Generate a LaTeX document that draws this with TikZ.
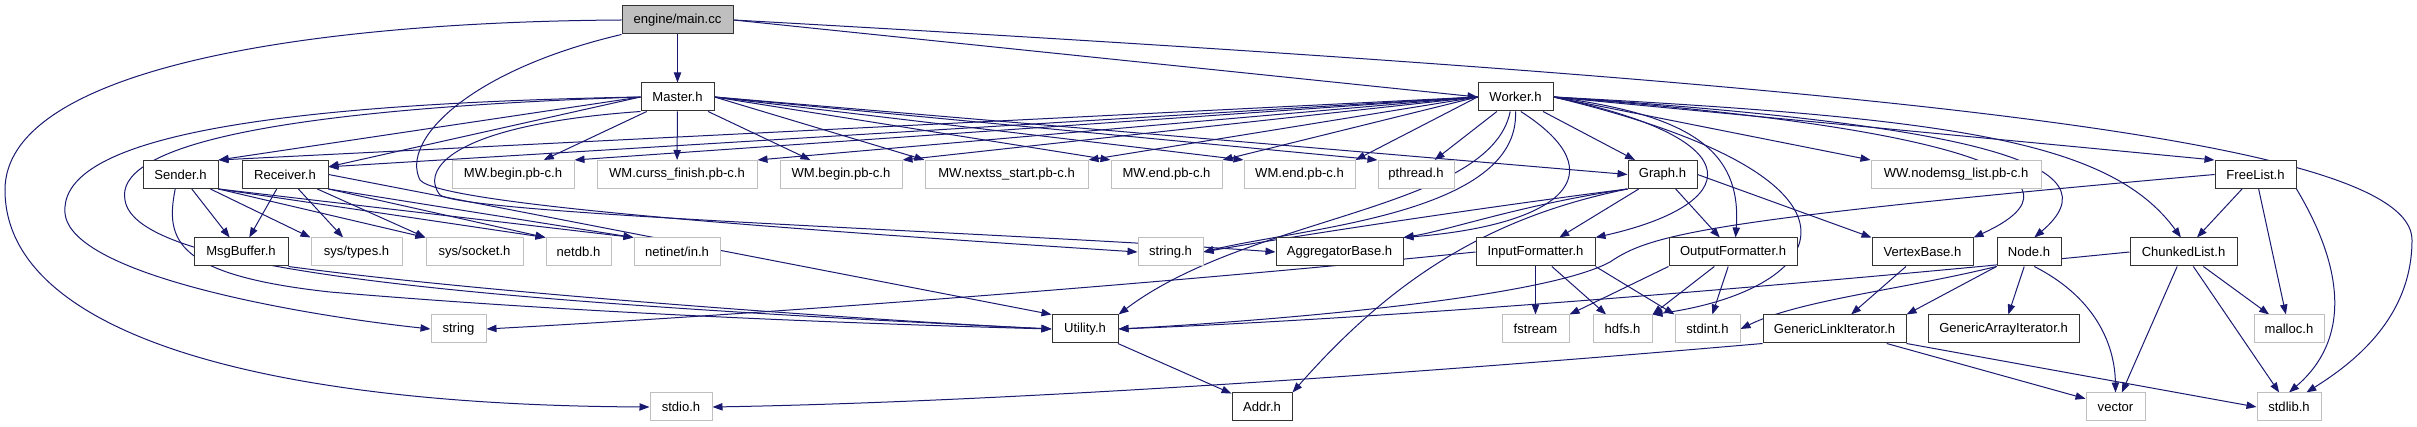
\documentclass[tikz,border=0pt]{standalone}
\usepackage{fontspec}
\setmainfont{Liberation Sans}
\usetikzlibrary{arrows.meta,backgrounds}
\definecolor{edgec}{HTML}{191970}
\definecolor{mainfill}{HTML}{BFBFBF}
\definecolor{extc}{HTML}{BFBFBF}
\newcommand\nd[6]{\node[#1, minimum width={(#4-#3)*0.75pt}] (#2) at ({(#3+#4)/2},#5) {#6};}
\begin{document}
\begin{tikzpicture}[x=0.75pt,y=-0.75pt,
  box/.style={draw=black!80, line width=0.75pt, inner sep=0pt, minimum height=21pt, font=\fontsize{9.8}{12}\selectfont, fill=white},
  ext/.style={box, draw=extc},
  mainbox/.style={box, fill=mainfill},
  e/.style={draw=edgec, line width=0.75pt, -{Triangle[length=7.5pt,width=5.5pt]}},
]
\useasboundingbox (0,0) rectangle (2417,427);
% row 0
\nd{mainbox}{main}{622}{733}{20}{engine/main.cc}
% row 1
\nd{box}{master}{641}{714}{97}{Master.h}
\nd{box}{worker}{1478}{1553}{97}{Worker.h}
% row 2
\nd{box}{sender}{143}{218}{174.5}{Sender.h}
\nd{box}{receiver}{242}{328}{174.5}{Receiver.h}
\nd{ext}{mwbegin}{452}{574}{174.5}{MW.begin.pb-c.h}
\nd{ext}{wmcurss}{597}{757}{174.5}{WM.curss\_finish.pb-c.h}
\nd{ext}{wmbegin}{780}{902}{174.5}{WM.begin.pb-c.h}
\nd{ext}{mwnext}{925}{1088}{174.5}{MW.nextss\_start.pb-c.h}
\nd{ext}{mwend}{1111}{1222}{174.5}{MW.end.pb-c.h}
\nd{ext}{wmend}{1244}{1355}{174.5}{WM.end.pb-c.h}
\nd{ext}{pthread}{1378}{1454}{174.5}{pthread.h}
\nd{box}{graph}{1628}{1697}{174.5}{Graph.h}
\nd{ext}{ww}{1871}{2041}{174.5}{WW.nodemsg\_list.pb-c.h}
\nd{box}{freelist}{2215}{2296}{174.5}{FreeList.h}
% row 3
\nd{box}{msgbuf}{194}{288}{252}{MsgBuffer.h}
\nd{ext}{systypes}{311}{402}{252}{sys/types.h}
\nd{ext}{syssocket}{426}{523}{252}{sys/socket.h}
\nd{ext}{netdb}{546}{611}{252}{netdb.h}
\nd{ext}{netinet}{634}{720}{252}{netinet/in.h}
\nd{ext}{stringh}{1138}{1203}{252}{string.h}
\nd{box}{aggbase}{1276}{1403}{252}{AggregatorBase.h}
\nd{box}{inputf}{1476}{1595}{252}{InputFormatter.h}
\nd{box}{outputf}{1669}{1797}{252}{OutputFormatter.h}
\nd{box}{vertexbase}{1872}{1973}{252}{VertexBase.h}
\nd{box}{node}{1997}{2061}{252}{Node.h}
\nd{box}{chunked}{2130}{2237}{252}{ChunkedList.h}
% row 4
\nd{ext}{string}{431}{486}{329}{string}
\nd{box}{utility}{1052}{1118}{329}{Utility.h}
\nd{ext}{fstream}{1502}{1569}{329}{fstream}
\nd{ext}{hdfs}{1593}{1652}{329}{hdfs.h}
\nd{ext}{stdint}{1675}{1740}{329}{stdint.h}
\nd{box}{glink}{1763}{1906}{329}{GenericLinkIterator.h}
\nd{box}{garray}{1928}{2079}{329}{GenericArrayIterator.h}
\nd{ext}{malloc}{2254}{2324}{329}{malloc.h}
% row 5
\nd{ext}{stdio}{650}{712}{407}{stdio.h}
\nd{box}{addr}{1232}{1292}{407}{Addr.h}
\nd{ext}{vector}{2086}{2145}{407}{vector}
\nd{ext}{stdlib}{2257}{2321}{407}{stdlib.h}

\begin{scope}[on background layer]
% main.cc
\draw[e] (main) -- (master);
\draw[e] (main.east) -- (worker.west);
\draw[e] (main.east) .. controls (1900,85) and (2412,140) .. (2412,240) .. controls (2412,320) and (2350,365) .. (stdlib.40);
\draw[e] (main.west) .. controls (300,22) and (5,70) .. (5,190) .. controls (5,330) and (250,405) .. (stdio.west);
\draw[e] (main.south west) .. controls (470,70) and (400,140) .. (420,180) .. controls (440,205) and (800,230) .. (stringh.west);
% Master.h
\draw[e] (master.west) .. controls (200,105) and (60,150) .. (65,213) .. controls (70,275) and (300,315) .. (string.west);
\draw[e] (master.west) .. controls (250,110) and (115,150) .. (125,200) .. controls (135,270) and (450,300) .. (utility.west);
\draw[e] (master.south west) .. controls (450,125) and (420,170) .. (440,195) .. controls (470,215) and (1000,232) .. (aggbase.west);
\draw[e] (master.west) -- (sender.north east);
\draw[e] (master.west) -- (receiver.10);
\draw[e] (master) -- (mwbegin);
\draw[e] (master) -- (wmcurss);
\draw[e] (master) -- (wmbegin);
\draw[e] (master.east) -- (mwnext.north west);
\draw[e] (master.east) -- (mwend.north west);
\draw[e] (master.east) -- (wmend.north west);
\draw[e] (master.east) -- (pthread.north west);
\draw[e] (master.east) -- (graph.west);
% Worker.h
\draw[e] (worker.west) -- (sender.north east);
\draw[e] (worker.west) -- (receiver.10);
\draw[e] (worker.west) -- (mwbegin.north east);
\draw[e] (worker.west) -- (wmcurss.north east);
\draw[e] (worker.west) -- (wmbegin.north east);
\draw[e] (worker.west) -- (mwnext.north east);
\draw[e] (worker.west) -- (mwend.north east);
\draw[e] (worker.west) -- (wmend.north east);
\draw[e] (worker) -- (pthread);
\draw[e] (worker) -- (graph);
\draw[e] (worker.east) -- (ww.north west);
\draw[e] (worker.east) -- (freelist.north west);
\draw[e] (worker.east) .. controls (1950,118) and (2110,140) .. (chunked.100);
\draw[e] (worker.east) .. controls (1980,125) and (2120,165) .. (node.70);
\draw[e] (worker.east) .. controls (1970,128) and (2100,180) .. (vertexbase.north east);
\draw[e] (worker.east) .. controls (1760,140) and (1740,205) .. (inputf.north east);
\draw[e] (worker.east) .. controls (1690,115) and (1742,150) .. (outputf.80);
\draw[e] (worker.east) .. controls (1900,180) and (1830,290) .. (hdfs.north east);
\draw[e] (worker.250) .. controls (1490,210) and (1250,215) .. (utility.north east);
\draw[e] (worker.south) .. controls (1520,215) and (1300,228) .. (stringh.east);
\draw[e] (worker.290) .. controls (1620,175) and (1560,225) .. (aggbase.north east);
% Graph.h
\draw[e] (graph) -- (inputf);
\draw[e] (graph) -- (outputf);
\draw[e] (graph.east) -- (vertexbase.north west);
\draw[e] (graph.south west) .. controls (1500,205) and (1300,235) .. (stringh.east);
\draw[e] (graph.south west) .. controls (1520,205) and (1450,230) .. (aggbase.north east);
\draw[e] (graph.south west) .. controls (1500,215) and (1400,270) .. (addr.north east);
% Sender.h
\draw[e] (sender) -- (msgbuf);
\draw[e] (sender) -- (systypes.north west);
\draw[e] (sender.south east) -- (syssocket.north west);
\draw[e] (sender.south east) -- (netdb.north west);
\draw[e] (sender.south east) -- (netinet.north west);
\draw[e] (sender.250) .. controls (165,240) and (175,275) .. (330,292) .. controls (600,315) and (900,325) .. (utility.west);
% Receiver.h
\draw[e] (receiver) -- (msgbuf);
\draw[e] (receiver) -- (systypes);
\draw[e] (receiver) -- (syssocket.north west);
\draw[e] (receiver.south east) -- (netdb.north west);
\draw[e] (receiver.south east) -- (netinet.north west);
\draw[e] (receiver.east) -- (utility.north west);
% MsgBuffer.h
\draw[e] (msgbuf.south east) .. controls (500,295) and (900,322) .. (utility.west);
% Utility.h
\draw[e] (utility) -- (addr);
% InputFormatter.h
\draw[e] (inputf.west) .. controls (1200,280) and (800,312) .. (string.east);
\draw[e] (inputf) -- (fstream);
\draw[e] (inputf) -- (hdfs);
\draw[e] (inputf.south east) -- (stdint.north west);
% OutputFormatter.h
\draw[e] (outputf.south west) -- (fstream.north east);
\draw[e] (outputf) -- (hdfs.north east);
\draw[e] (outputf) -- (stdint);
% VertexBase.h
\draw[e] (vertexbase) -- (glink);
% Node.h
\draw[e] (node.south west) .. controls (1900,290) and (1800,300) .. (stdint.east);
\draw[e] (node.south west) -- (glink.north east);
\draw[e] (node) -- (garray);
\draw[e] (node.290) .. controls (2100,300) and (2115,350) .. (vector.north);
% ChunkedList.h
\draw[e] (chunked.west) .. controls (1800,285) and (1400,318) .. (utility.east);
\draw[e] (chunked) -- (vector);
\draw[e] (chunked) -- (stdlib);
\draw[e] (chunked) -- (malloc);
% FreeList.h
\draw[e] (freelist.west) .. controls (1700,220) and (1650,235) .. (1610,262) .. controls (1540,300) and (1250,322) .. (utility.east);
\draw[e] (freelist) -- (chunked);
\draw[e] (freelist) -- (malloc);
\draw[e] (freelist.south east) .. controls (2345,270) and (2350,340) .. (stdlib.north);
% GenericLinkIterator.h
\draw[e] (glink.south west) .. controls (1400,375) and (1000,402) .. (stdio.east);
\draw[e] (glink) -- (vector);
\draw[e] (glink.south east) -- (stdlib.west);
\end{scope}
\end{tikzpicture}
\end{document}
